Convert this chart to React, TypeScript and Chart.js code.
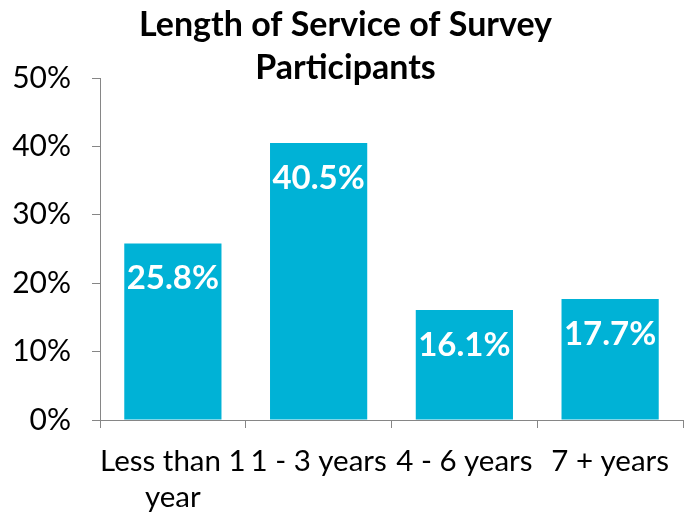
import React, { useEffect, useRef } from "react";
import { Chart, registerables } from "chart.js";

Chart.register(...registerables);

const titleLines = ["Length of Service of Survey", "Participants"];
const categories: (string | string[])[] = [["Less than 1", "year"], "1 - 3 years", "4 - 6 years", "7 + years"];
const values = [25.8, 40.5, 16.1, 17.7];
const yMin = 0;
const yMax = 50;
const yStep = 10;

const FONT = "Lato, 'Noto Sans', sans-serif";
const BAR = "#00B2D6";
const AXIS = "#868686";

const titlePlugin = {
  id: "customTitle",
  afterDraw(chart: any) {
    const ctx = chart.ctx;
    ctx.save();
    ctx.fillStyle = "#000";
    ctx.font = `bold 34px ${FONT}`;
    ctx.textAlign = "center";
    ctx.textBaseline = "middle";
    const cx = chart.width / 2;
    ctx.fillText(titleLines[0], cx, 25);
    ctx.fillText(titleLines[1], cx, 68);
    ctx.restore();
  },
};

const labelPlugin = {
  id: "barLabels",
  afterDatasetsDraw(chart: any) {
    const ctx = chart.ctx;
    const meta = chart.getDatasetMeta(0);
    ctx.save();
    ctx.fillStyle = "#fff";
    ctx.font = `bold 33px ${FONT}`;
    ctx.textAlign = "center";
    ctx.textBaseline = "middle";
    meta.data.forEach((bar: any, i: number) => {
      ctx.fillText(values[i].toFixed(1) + "%", bar.x, bar.y + 35);
    });
    ctx.restore();
  },
};

export default function App() {
  const ref = useRef<HTMLCanvasElement>(null);
  useEffect(() => {
    if (!ref.current) return;
    const chart = new Chart(ref.current, {
      type: "bar",
      data: {
        labels: categories,
        datasets: [
          {
            data: values,
            backgroundColor: BAR,
            categoryPercentage: 1,
            barPercentage: 0.667,
          },
        ],
      },
      options: {
        animation: false,
        responsive: false,
        layout: { padding: { top: 78, right: 8, left: 0, bottom: 0 } },
        plugins: { legend: { display: false }, tooltip: { enabled: false }, title: { display: false } },
        scales: {
          x: {
            grid: { drawOnChartArea: false, drawTicks: true, tickLength: 8, color: AXIS, offset: true },
            border: { color: AXIS },
            ticks: {
              color: "#000",
              font: { family: FONT, size: 29.5, lineHeight: 1.2 },
              padding: 16,
              maxRotation: 0,
              autoSkip: false,
            },
            afterFit(scale: any) {
              scale.height = 97;
            },
          },
          y: {
            min: yMin,
            max: yMax,
            grid: { drawOnChartArea: false, drawTicks: true, tickLength: 8, color: AXIS },
            border: { color: AXIS },
            ticks: {
              stepSize: yStep,
              color: "#000",
              font: { family: FONT, size: 30 },
              padding: 21,
              callback: (v: any) => v + "%",
            },
            afterFit(scale: any) {
              scale.width = 100;
            },
          },
        },
      },
      plugins: [titlePlugin, labelPlugin],
    });
    return () => chart.destroy();
  }, []);
  return (
    <div style={{ position: "fixed", left: 0, top: 0, width: 691, height: 517, background: "#fff" }}>
      <canvas ref={ref} width={691} height={517} style={{ display: "block" }} />
    </div>
  );
}
